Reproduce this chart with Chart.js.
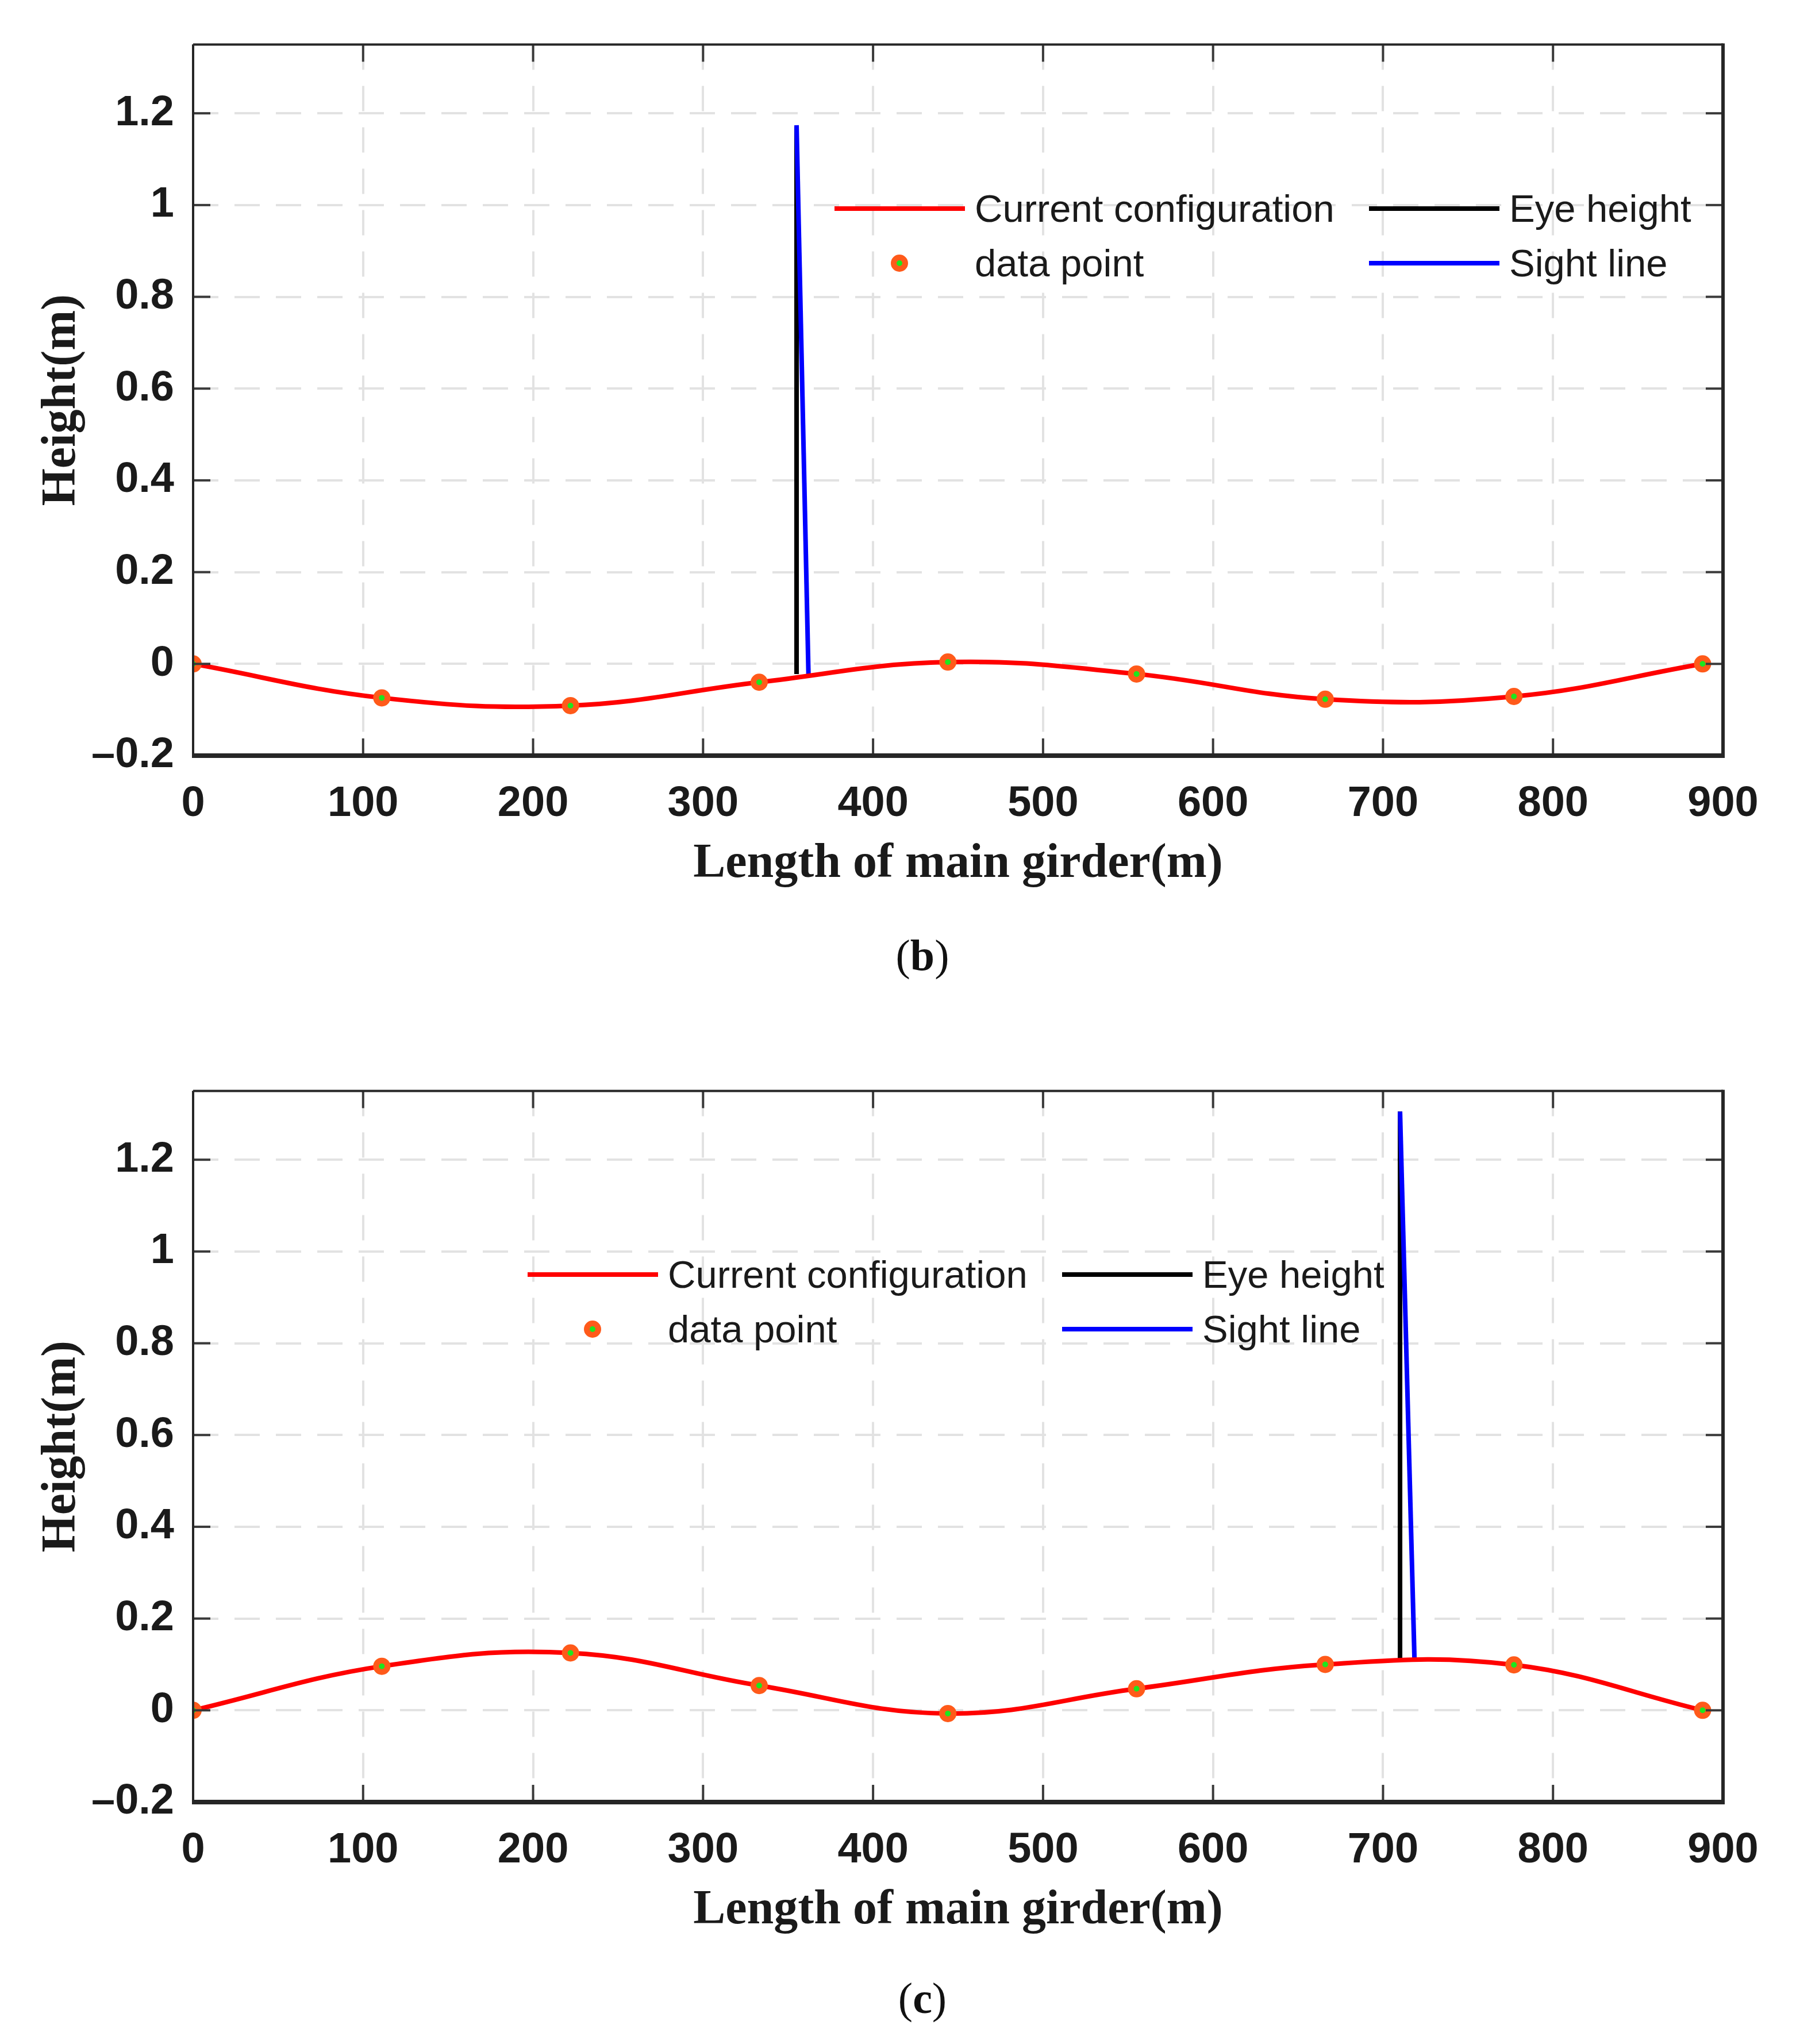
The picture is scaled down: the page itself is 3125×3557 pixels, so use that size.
<!DOCTYPE html>
<html>
<head>
<meta charset="utf-8">
<script src="https://cdn.jsdelivr.net/npm/chart.js@4.4.0/dist/chart.umd.min.js"></script>
<style>
    html, body { margin: 0; padding: 0; background: #fff; }
    #page { position: relative; width: 3125px; height: 3557px; background: #fff; overflow: hidden; }
    canvas { position: absolute; left: 0; }
    .caption {
        position: absolute; left: 1405px; width: 400px; text-align: center;
        font-family: 'Liberation Serif', 'Times New Roman', serif;
        font-size: 76px; line-height: 80px; color: #111;
    }
</style>
</head>
<body>
<div id="page">
    <canvas id="chartB" width="3125" height="1600" style="top:0px"></canvas>
    <div class="caption" style="top:1622px">(<b>b</b>)</div>
    <canvas id="chartC" width="3125" height="1600" style="top:1821px"></canvas>
    <div class="caption" style="top:3437px">(<b>c</b>)</div>
</div>
<script>
// Posiciones de los puntos medidos a lo largo de la viga (m)
const girderX = [0, 111, 222, 333, 444, 555, 666, 777, 888];
// Altura de la configuración actual (m), gráficos (b) y (c)
const heightB = [0, -0.074, -0.091, -0.040, 0.004, -0.022, -0.077, -0.071, 0];
const heightC = [0, 0.096, 0.125, 0.054, -0.007, 0.047, 0.100, 0.099, 0];

// Altura del ojo y línea de visión
const eyeXB = [355, 355];
const eyeYB = [-0.022, 1.17];
const sightXB = [355, 362];
const sightYB = [1.174, -0.022];

const eyeXC = [710, 710];
const eyeYC = [0.110, 1.305];
const sightXC = [710, 718.5];
const sightYC = [1.305, 0.110];

const xTicks = [0, 100, 200, 300, 400, 500, 600, 700, 800, 900];
const yTicks = [-0.2, 0, 0.2, 0.4, 0.6, 0.8, 1, 1.2];
const legendLabels = ['Current configuration', 'data point', 'Eye height', 'Sight line'];

const SANS = '"Liberation Sans", Arial, sans-serif';
const SERIF = '"Liberation Serif", "Times New Roman", serif';

function toXY(xs, ys) {
    return xs.map((x, i) => ({ x: x, y: ys[i] }));
}

function fmtTick(v) {
    const r = Math.round(v * 10) / 10;
    if (r === 0) return '0';
    return (r < 0 ? '\u2013' : '') + Math.abs(r);
}

// Marco estilo MATLAB con marcas interiores
const framePlugin = {
    id: 'frame',
    afterDraw(chart) {
        const { ctx, chartArea: a, scales } = chart;
        const line = (x1, y1, x2, y2) => { ctx.beginPath(); ctx.moveTo(x1, y1); ctx.lineTo(x2, y2); ctx.stroke(); };
        ctx.save();
        ctx.strokeStyle = '#3a3a3a';
        ctx.lineWidth = 4;
        xTicks.forEach(v => {
            const px = scales.x.getPixelForValue(v);
            line(px, a.bottom, px, a.bottom - 30);
            line(px, a.top, px, a.top + 30);
        });
        yTicks.forEach(v => {
            const py = scales.y.getPixelForValue(v);
            line(a.left, py, a.left + 30, py);
            line(a.right, py, a.right - 30, py);
        });
        ctx.strokeStyle = '#262626';
        ctx.lineWidth = 4;
        line(a.left, a.top, a.right, a.top);
        line(a.left, a.top, a.left, a.bottom);
        ctx.lineWidth = 6;
        line(a.right, a.top - 2, a.right, a.bottom);
        ctx.lineWidth = 8;
        line(a.left - 2, a.bottom, a.right + 3, a.bottom);
        ctx.restore();
    }
};

// Leyenda en dos columnas dentro del área de trazado
const legendPlugin = {
    id: 'girderLegend',
    afterDraw(chart, args, opts) {
        const ctx = chart.ctx;
        const items = [
            { col: 0, row: 0, kind: 'line', color: '#ff0000', text: legendLabels[0] },
            { col: 0, row: 1, kind: 'point', text: legendLabels[1] },
            { col: 1, row: 0, kind: 'line', color: '#000000', text: legendLabels[2] },
            { col: 1, row: 1, kind: 'line', color: '#0000ff', text: legendLabels[3] }
        ];
        ctx.save();
        items.forEach(it => {
            const x = opts.x + it.col * 930;
            const y = opts.y + it.row * 95;
            if (it.kind === 'line') {
                ctx.strokeStyle = it.color;
                ctx.lineWidth = 8;
                ctx.beginPath();
                ctx.moveTo(x, y);
                ctx.lineTo(x + 227, y);
                ctx.stroke();
            } else {
                ctx.beginPath();
                ctx.arc(x + 113, y, 10, 0, Math.PI * 2);
                ctx.fillStyle = '#1ee61e';
                ctx.fill();
                ctx.lineWidth = 10;
                ctx.strokeStyle = '#ff5a1a';
                ctx.stroke();
            }
            ctx.fillStyle = '#1a1a1a';
            ctx.font = '67px ' + SANS;
            ctx.textAlign = 'left';
            ctx.textBaseline = 'middle';
            ctx.fillText(it.text, x + 244, y + 5);
        });
        ctx.restore();
    }
};

function makeChart(id, heights, eyeX, eyeY, sightX, sightY, legendPos) {
    const ctx = document.getElementById(id);
    return new Chart(ctx, {
        type: 'line',
        data: {
            datasets: [{
                label: legendLabels[0],
                data: toXY(girderX, heights),
                borderColor: '#ff0000',
                borderWidth: 8,
                tension: 0.4,
                pointRadius: 10,
                pointBorderWidth: 10,
                pointBorderColor: '#ff5a1a',
                pointBackgroundColor: '#1ee61e',
                order: 0
            }, {
                label: legendLabels[3],
                data: toXY(sightX, sightY),
                borderColor: '#0000ff',
                borderWidth: 8,
                pointRadius: 0,
                tension: 0,
                order: 1
            }, {
                label: legendLabels[2],
                data: toXY(eyeX, eyeY),
                borderColor: '#000000',
                borderWidth: 8,
                pointRadius: 0,
                tension: 0,
                order: 2
            }]
        },
        options: {
            responsive: false,
            devicePixelRatio: 1,
            animation: false,
            events: [],
            layout: {
                padding: { left: 0, right: 127, top: 73, bottom: 0 }
            },
            plugins: {
                legend: { display: false },
                tooltip: { enabled: false },
                girderLegend: legendPos
            },
            scales: {
                x: {
                    type: 'linear',
                    min: 0,
                    max: 900,
                    afterBuildTicks: s => { s.ticks = xTicks.map(v => ({ value: v })); },
                    afterFit: s => { s.height = 285; },
                    grid: { color: '#e2e2e2', lineWidth: 4, drawTicks: false },
                    border: { display: false, dash: [44, 28] },
                    ticks: {
                        padding: 40,
                        color: '#1a1a1a',
                        font: { family: SANS, size: 74, weight: 'bold' },
                        maxRotation: 0,
                        callback: v => fmtTick(v)
                    },
                    title: {
                        display: true,
                        text: 'Length of main girder(m)',
                        color: '#1a1a1a',
                        font: { family: SERIF, size: 84, weight: 'bold' },
                        padding: { top: 0, bottom: 45 }
                    }
                },
                y: {
                    type: 'linear',
                    min: -0.2,
                    max: 1.35,
                    afterBuildTicks: s => { s.ticks = yTicks.map(v => ({ value: v })); },
                    afterFit: s => { s.width = 336; },
                    grid: { color: '#e2e2e2', lineWidth: 4, drawTicks: false },
                    border: { display: false, dash: [44, 28] },
                    ticks: {
                        padding: 33,
                        color: '#1a1a1a',
                        font: { family: SANS, size: 74, weight: 'bold' },
                        callback: v => fmtTick(v)
                    },
                    title: {
                        display: true,
                        text: 'Height(m)',
                        color: '#1a1a1a',
                        font: { family: SERIF, size: 84, weight: 'bold' },
                        padding: { top: 58, bottom: 0 }
                    }
                }
            }
        },
        plugins: [legendPlugin, framePlugin]
    });
}

makeChart('chartB', heightB, eyeXB, eyeYB, sightXB, sightYB, { x: 1452, y: 363 });
makeChart('chartC', heightC, eyeXC, eyeYC, sightXC, sightYC, { x: 918, y: 397 });
</script>
</body>
</html>
